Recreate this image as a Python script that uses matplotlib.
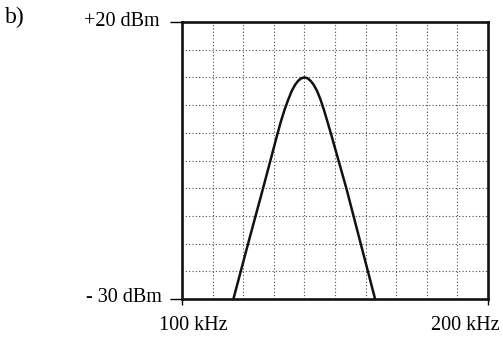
import matplotlib
matplotlib.use("Agg")
import matplotlib.pyplot as plt
from matplotlib.ticker import MultipleLocator

# spectrum: frequency (kHz) vs level (dBm)
freq_khz = [116.8, 121.6, 126.5, 131.0, 132.4, 133.6, 134.8, 135.9, 137.0, 138.0, 139.0, 140.0,
            141.0, 142.0, 143.0, 144.1, 145.2, 146.4, 147.7, 148.9, 153.7, 158.4, 163.1]
level_dbm = [-30, -20, -10, -0.6, 2.2, 4.3, 6.1, 7.6, 8.7, 9.4, 9.85, 10,
             9.85, 9.4, 8.7, 7.6, 6.1, 4.1, 1.7, -0.6, -10, -20, -30]

x_range = (100, 200)
y_range = (-30, 20)
y_labels = ["+20 dBm", "- 30 dBm"]
x_labels = ["100 kHz", "200 kHz"]

W, H = 503, 339
plt.rcParams['font.family'] = ['Liberation Serif', 'DejaVu Serif']

fig = plt.figure(figsize=(W/100, H/100), dpi=100)
ax = fig.add_axes([182/W, 1 - 299/H, 306/W, 277/H])

ax.plot(freq_khz, level_dbm, color='#111111', lw=1.8, solid_joinstyle='round')

ax.set_xlim(*x_range)
ax.set_ylim(*y_range)
ax.xaxis.set_minor_locator(MultipleLocator(10))
ax.yaxis.set_minor_locator(MultipleLocator(5))
ax.set_xticks(list(x_range))
ax.set_yticks(list(y_range))
ax.set_xticklabels([])
ax.set_yticklabels([])
ax.tick_params(axis='y', which='major', direction='out', length=9, width=1.0)
ax.tick_params(axis='x', which='major', direction='out', length=4.5, width=1.0)
ax.tick_params(which='minor', length=0)
ax.grid(which='minor', color='0.3', lw=0.8, ls=(0, (1, 2)))
for s in ax.spines.values():
    s.set_linewidth(1.9)
    s.set_color('#111111')

fs = 14.5
fig.text(160/W, 1 - 21/H, y_labels[0], ha='right', va='center', fontsize=fs)
fig.text(162/W, 1 - 298/H, y_labels[1], ha='right', va='center', fontsize=fs)
fig.text(193/W, 1 - 326/H, x_labels[0], ha='center', va='center', fontsize=fs)
fig.text(465/W, 1 - 326/H, x_labels[1], ha='center', va='center', fontsize=fs)
fig.text(5/W, 1 - 17/H, "b)", ha='left', va='center', fontsize=17)

plt.savefig("out.png", dpi=100)
